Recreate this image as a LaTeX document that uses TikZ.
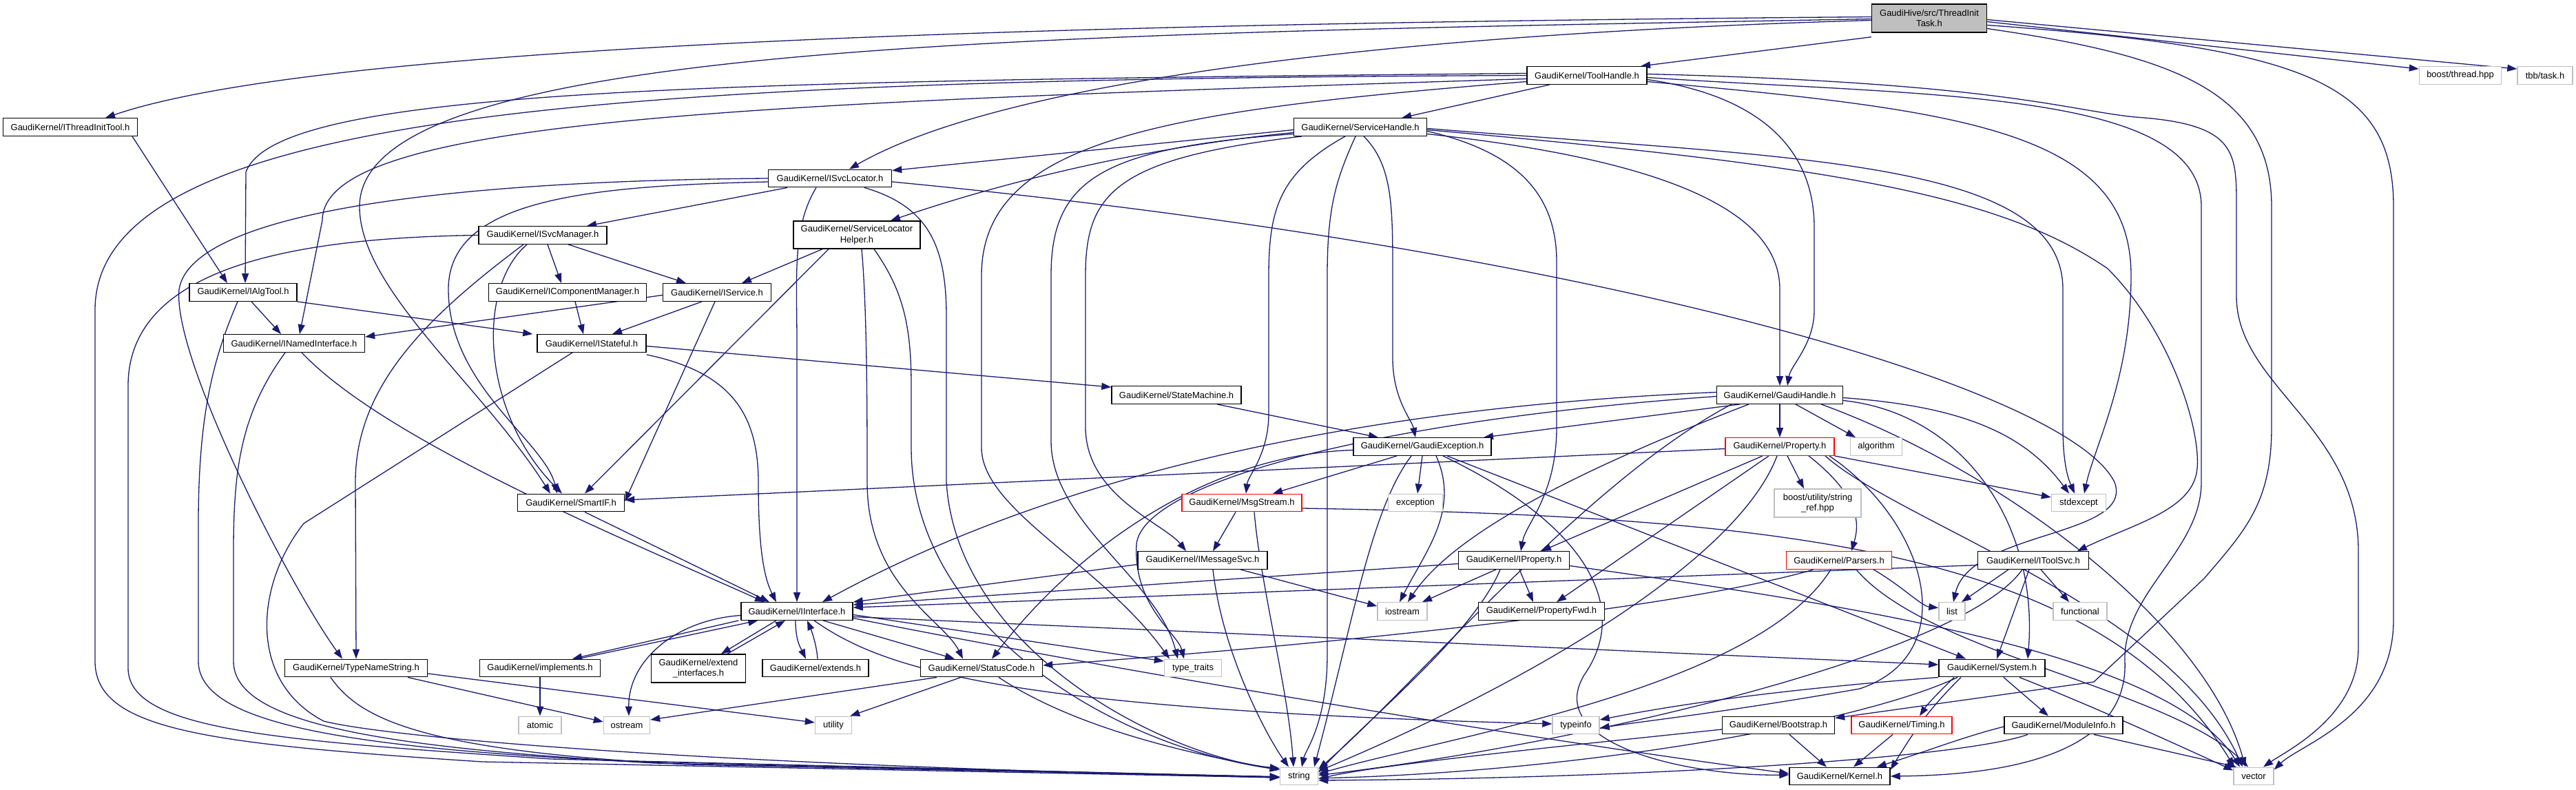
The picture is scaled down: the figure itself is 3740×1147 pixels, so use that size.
\documentclass[tikz,border=0pt]{standalone}
\usepackage{fontspec}
\setmainfont{Liberation Sans}
\usetikzlibrary{arrows.meta}
\definecolor{edgeblue}{RGB}{25,25,112}
\definecolor{grayb}{RGB}{191,191,191}
\newcommand\dgfont{\fontsize{13}{15.5}\selectfont}
\pgfdeclarelayer{edgelayer}
\pgfsetlayers{edgelayer,main}
\tikzset{
  nd/.style={draw=black, line width=1.4pt, fill=white, minimum height=25.5pt, inner sep=0pt, font=\dgfont, align=center},
  sysnd/.style={nd, draw=grayb},
  trunc/.style={nd, draw=red},
  ed/.style={draw=edgeblue, line width=1.3pt, -{Triangle[length=14pt,width=10pt]}},
}
\begin{document}
\begin{tikzpicture}[x=1pt,y=-1pt]
\useasboundingbox (0,0) rectangle (3740,1147);
% ---------------- nodes ----------------
\node[nd, fill=grayb, minimum width=167pt, minimum height=41pt] (tit) at (2801,26.5) {GaudiHive/src/ThreadInit\\Task.h};
\node[nd, minimum width=174pt] (th) at (2304,109.5) {GaudiKernel/ToolHandle.h};
\node[sysnd, minimum width=119pt] (bt) at (3572,109.5) {boost/thread.hpp};
\node[sysnd, minimum width=80pt] (tbb) at (3695,109.5) {tbb/task.h};
\node[nd, minimum width=195pt] (itit) at (102,184.5) {GaudiKernel/IThreadInitTool.h};
\node[nd, minimum width=193pt] (sh) at (1975,184.5) {GaudiKernel/ServiceHandle.h};
\node[nd, minimum width=179pt] (isl) at (1205,259) {GaudiKernel/ISvcLocator.h};
\node[nd, minimum width=186pt] (ism) at (788,341.5) {GaudiKernel/ISvcManager.h};
\node[nd, minimum width=184pt, minimum height=40pt] (slh) at (1244,341) {GaudiKernel/ServiceLocator\\Helper.h};
\node[nd, minimum width=156pt] (iat) at (353,424.5) {GaudiKernel/IAlgTool.h};
\node[nd, minimum width=229pt] (icm) at (824,424.5) {GaudiKernel/IComponentManager.h};
\node[nd, minimum width=157pt] (isv) at (1041,424.5) {GaudiKernel/IService.h};
\node[nd, minimum width=205pt] (ini) at (427,498.5) {GaudiKernel/INamedInterface.h};
\node[nd, minimum width=158pt] (ist) at (859,498.5) {GaudiKernel/IStateful.h};
\node[nd, minimum width=188pt] (sm) at (1708,573.5) {GaudiKernel/StateMachine.h};
\node[nd, minimum width=183pt] (gh) at (2584,573.5) {GaudiKernel/GaudiHandle.h};
\node[nd, minimum width=200pt] (ge) at (2065,648.5) {GaudiKernel/GaudiException.h};
\node[trunc, minimum width=158pt] (prop) at (2584,648.5) {GaudiKernel/Property.h};
\node[sysnd, minimum width=75pt] (alg) at (2724,648.5) {algorithm};
\node[sysnd, minimum width=79pt] (stdex) at (3018,730) {stdexcept};
\node[nd, minimum width=155pt] (sif) at (829,730) {GaudiKernel/SmartIF.h};
\node[trunc, minimum width=174pt] (ms) at (1803,730) {GaudiKernel/MsgStream.h};
\node[sysnd, minimum width=79pt] (exc) at (2055,730) {exception};
\node[sysnd, minimum width=126pt, minimum height=41pt] (bsr) at (2639,730.5) {boost/utility/string\\\_ref.hpp};
\node[nd, minimum width=188pt] (imsg) at (1746,813.5) {GaudiKernel/IMessageSvc.h};
\node[nd, minimum width=161pt] (iprop) at (2198,813.5) {GaudiKernel/IProperty.h};
\node[trunc, minimum width=153pt] (pars) at (2670,813.5) {GaudiKernel/Parsers.h};
\node[nd, minimum width=161pt] (its) at (2952,813.5) {GaudiKernel/IToolSvc.h};
\node[nd, minimum width=162pt] (ii) at (1157,887.5) {GaudiKernel/IInterface.h};
\node[sysnd, minimum width=72pt] (ios) at (2036,887.5) {iostream};
\node[nd, minimum width=183pt] (pfwd) at (2238,887.5) {GaudiKernel/PropertyFwd.h};
\node[sysnd, minimum width=38pt] (lst) at (2834,887.5) {list};
\node[sysnd, minimum width=78pt] (func) at (3020,887.5) {functional};
\node[nd, minimum width=207pt] (tns) at (517,970) {GaudiKernel/TypeNameString.h};
\node[nd, minimum width=175pt] (impl) at (784,970) {GaudiKernel/implements.h};
\node[nd, minimum width=137pt, minimum height=41pt] (ext) at (1014,970.5) {GaudiKernel/extend\\\_interfaces.h};
\node[nd, minimum width=154pt] (exts) at (1184,970) {GaudiKernel/extends.h};
\node[nd, minimum width=177pt] (sc) at (1425,970) {GaudiKernel/StatusCode.h};
\node[sysnd, minimum width=83pt] (tt) at (1732,970) {type\_traits};
\node[nd, minimum width=154pt] (sys) at (2892,970) {GaudiKernel/System.h};
\node[sysnd, minimum width=62pt] (atom) at (784,1053) {atomic};
\node[sysnd, minimum width=67pt] (ostr) at (910,1053) {ostream};
\node[sysnd, minimum width=53pt] (util) at (1210,1053) {utility};
\node[sysnd, minimum width=68pt] (tinfo) at (2288,1053) {typeinfo};
\node[nd, minimum width=163pt] (boot) at (2582,1053) {GaudiKernel/Bootstrap.h};
\node[trunc, minimum width=146pt] (tim) at (2761,1053) {GaudiKernel/Timing.h};
\node[nd, minimum width=172pt] (mi) at (2996,1053) {GaudiKernel/ModuleInfo.h};
\node[sysnd, minimum width=55pt] (str) at (1886,1127) {string};
\node[nd, minimum width=146pt] (ker) at (2671,1127) {GaudiKernel/Kernel.h};
\node[sysnd, minimum width=58pt] (vec) at (3272,1127) {vector};
% ---------------- edges ----------------
\begin{pgfonlayer}{edgelayer}
% ThreadInitTask
\draw[ed] ([yshift=-6pt]tit.south west) -- ([xshift=78pt]th.north);
\draw[ed] ([yshift=2pt]tit.west) .. controls (1400,35) and (450,70) .. ([xshift=51pt]itit.north);
\draw[ed] ([yshift=-3pt]tit.west) .. controls (2000,50) and (1450,120) .. ([xshift=28pt]isl.north);
\draw[ed] ([yshift=-1pt]tit.west) .. controls (1500,50) and (522,60) .. (522,300) .. controls (522,420) and (700,560) .. ([xshift=-30pt]sif.north);
\draw[ed] ([yshift=-5pt]tit.east) -- ([yshift=-4pt]bt.north west);
\draw[ed] ([yshift=-2pt]tit.east) -- ([yshift=-4pt]tbb.north west);
\draw[ed] ([yshift=-10pt]tit.east) .. controls (3350,70) and (3475,120) .. (3475,300) -- (3475,900) .. controls (3475,1040) and (3340,1080) .. ([yshift=-4pt]vec.north east);
\draw[ed] ([yshift=-15pt]tit.east) .. controls (3150,80) and (3298,130) .. (3298,300) -- (3298,620) .. controls (3298,730) and (3260,770) .. (3200,840) -- (3040,990) -- ([yshift=-3pt]boot.north east);
% IThreadInitTool
\draw[ed] ([xshift=90pt]itit.south) -- ([xshift=-23pt]iat.north);
% ToolHandle
\draw[ed] ([xshift=-54pt]th.south) -- ([xshift=-37pt]sh.north east);
\draw[ed] ([yshift=-6pt]th.east) .. controls (2560,140) and (2634,220) .. (2634,330) -- (2634,450) .. controls (2634,500) and (2600,530) .. ([xshift=11pt]gh.north);
\draw[ed] ([yshift=3pt]th.west) .. controls (1000,118) and (400,130) .. (357,250) -- ([xshift=3pt]iat.north);
\draw[ed] ([yshift=-5pt]th.west) .. controls (1100,150) and (468,170) .. (468,320) -- ([xshift=8pt]ini.north);
\draw[ed] (th.west) .. controls (900,115) and (138,160) .. (138,450) -- (138,960) .. controls (138,1060) and (300,1080) .. (700,1106) -- ([yshift=-2pt]str.west);
\draw[ed] ([yshift=-3pt]th.east) .. controls (2800,140) and (3196,130) .. (3196,300) -- (3196,700) .. controls (3196,800) and (3082,860) .. (3085,960) .. controls (3090,1080) and (2950,1125) .. (ker.east);
\draw[ed] ([yshift=-9pt]th.east) .. controls (2850,160) and (3094,190) .. (3094,400) .. controls (3094,550) and (3040,650) .. ([xshift=8pt]stdex.north);
\draw[ed] ([yshift=2pt]th.east) .. controls (2900,120) and (3000,160) .. (3100,170) .. controls (3247,180) and (3247,220) .. (3247,300) -- (3247,430) .. controls (3247,560) and (3424,620) .. (3424,800) -- (3424,940) .. controls (3424,1040) and (3320,1090) .. ([xshift=14pt]vec.north);
\draw[ed] ([yshift=-9pt]th.west) .. controls (1700,160) and (1425,200) .. (1425,400) -- (1425,650) .. controls (1425,740) and (1600,820) .. ([xshift=-34pt]tt.north);
% ServiceHandle
\draw[ed] ([yshift=-4pt]sh.west) -- ([yshift=-2pt]isl.north east);
\draw[ed] ([yshift=-8pt]sh.west) .. controls (1700,210) and (1500,250) .. ([xshift=49pt]slh.north);
\draw[ed] ([yshift=-10pt]sh.east) .. controls (2400,230) and (2584,300) .. (2584,420) -- (gh.north);
\draw[ed] ([xshift=5pt]sh.south) .. controls (2022,240) and (2022,300) .. (2022,400) -- (2022,520) .. controls (2022,580) and (2050,610) .. ([xshift=-10pt]ge.north);
\draw[ed] ([xshift=-7pt]sh.south) .. controls (1940,260) and (1927,300) .. (1927,400) -- (1927,950) .. controls (1927,1050) and (1895,1090) .. ([xshift=4pt]str.north);
\draw[ed] ([yshift=-10pt]sh.west) .. controls (1600,215) and (1526,260) .. (1526,400) -- (1526,640) .. controls (1526,760) and (1680,840) .. ([xshift=-22pt]tt.north);
\draw[ed] ([xshift=-85pt]sh.south) .. controls (1620,230) and (1576,280) .. (1576,400) -- (1576,620) .. controls (1576,720) and (1690,760) .. ([xshift=-24pt]imsg.north);
\draw[ed] ([xshift=-22pt]sh.south) .. controls (1860,250) and (1842,300) .. (1842,400) -- (1842,600) .. controls (1842,660) and (1812,690) .. ([xshift=6pt]ms.north);
\draw[ed] ([yshift=-6pt]sh.east) .. controls (2200,220) and (2260,280) .. (2260,380) -- (2260,620) .. controls (2260,720) and (2215,760) .. ([xshift=10pt]iprop.north);
\draw[ed] ([yshift=-2pt]sh.east) .. controls (2600,230) and (2995,230) .. (2995,420) -- (2995,620) .. controls (2995,680) and (3005,700) .. ([xshift=-6pt]stdex.north);
\draw[ed] ([yshift=-4pt]sh.east) .. controls (2650,240) and (2900,280) .. (3060,390) .. controls (3150,480) and (3195,620) .. (3190,680) .. controls (3185,740) and (3100,760) .. ([xshift=64pt]its.north);
% ISvcLocator
\draw[ed] ([xshift=-62pt]isl.south) -- ([xshift=64pt]ism.north);
\draw[ed] ([yshift=-5pt]isl.west) .. controls (850,270) and (651,290) .. (651,420) .. controls (651,560) and (790,640) .. ([xshift=-20pt]sif.north);
\draw[ed] ([xshift=-20pt]isl.south) .. controls (1150,330) and (1157,400) .. (1157,500) -- (ii.north);
\draw[ed] ([xshift=50pt]isl.south) .. controls (1350,300) and (1374,360) .. (1374,460) -- (1374,700) .. controls (1390,950) and (1700,1100) .. ([yshift=-2pt]str.north west);
\draw[ed] ([yshift=-5pt]isl.east) .. controls (2300,360) and (3000,560) .. (3070,700) .. controls (3100,780) and (2860,770) .. ([xshift=2pt]lst.north);
\draw[ed] (isl.west) .. controls (700,262) and (280,300) .. (260,420) .. controls (250,520) and (420,850) .. ([xshift=-20pt]tns.north);
% ISvcManager
\draw[ed] ([xshift=7pt]ism.south) -- ([xshift=-9pt]icm.north);
\draw[ed] ([xshift=37pt]ism.south) -- ([xshift=-45pt]isv.north);
\draw[ed] ([xshift=-23pt]ism.south) .. controls (690,420) and (700,600) .. ([xshift=-13pt]sif.north);
\draw[ed] ([xshift=-28pt]ism.south) .. controls (620,460) and (516,560) .. (516,700) -- (tns.north);
\draw[ed] (ism.west) .. controls (450,345) and (186,380) .. (186,560) -- (186,970) .. controls (186,1060) and (400,1075) .. (800,1102) -- ([yshift=-1pt]str.west);
% ServiceLocatorHelper
\draw[ed] ([xshift=-50pt]slh.south) -- ([xshift=36pt]isv.north);
\draw[ed] ([xshift=-41pt]slh.south) -- ([xshift=20pt]sif.north);
\draw[ed] ([xshift=7pt]slh.south) .. controls (1259,450) and (1259,600) .. (1259,700) .. controls (1259,850) and (1370,900) .. ([xshift=-27pt]sc.north);
\draw[ed] ([xshift=25pt]slh.south) .. controls (1310,420) and (1323,470) .. (1323,560) -- (1323,650) .. controls (1323,900) and (1600,1080) .. ([yshift=-4pt]str.north west);
% IAlgTool
\draw[ed] ([xshift=12pt]iat.south) -- ([xshift=-19pt]ini.north);
\draw[ed] (iat.south east) -- ([xshift=-6pt]ist.north west);
\draw[ed] ([xshift=-8pt]iat.south) .. controls (310,520) and (288,600) .. (288,760) -- (288,960) .. controls (288,1050) and (500,1085) .. (900,1105) -- ([yshift=-1pt]str.west);
\draw[ed] ([xshift=11pt]icm.south) -- ([xshift=-12pt]ist.north);
% IService
\draw[ed] ([yshift=-4pt]isv.west) -- ([yshift=-4pt]ini.north east);
\draw[ed] ([xshift=-22pt]isv.south) -- ([xshift=30pt]ist.north);
\draw[ed] ([xshift=-3pt]isv.south) -- ([yshift=2pt]sif.east);
% INamedInterface
\draw[ed] ([xshift=11pt]ini.south) .. controls (560,640) and (900,780) .. ([xshift=-47pt]ii.north);
\draw[ed] ([xshift=-13pt]ini.south) .. controls (350,600) and (339,680) .. (339,800) -- (339,960) .. controls (339,1050) and (550,1085) .. (950,1108) -- ([yshift=-1pt]str.west);
% IStateful
\draw[ed] ([yshift=-4pt]ist.east) -- ([yshift=-2pt]sm.north west);
\draw[ed] ([yshift=-3pt]ist.south east) .. controls (1060,540) and (1101,600) .. (1101,700) .. controls (1101,800) and (1110,840) .. ([xshift=-30pt]ii.north);
\draw[ed] ([xshift=-28pt]ist.south) -- (441,760) .. controls (370,850) and (360,990) .. (470,1047) .. controls (560,1070) and (1000,1110) .. ([yshift=-2pt]str.west);
\draw[ed] ([xshift=59pt]sm.south) -- ([xshift=-64pt]ge.north);
% GaudiHandle
\draw[ed] (gh.south) -- (prop.north);
\draw[ed] ([xshift=23pt]gh.south) -- ([xshift=-30pt]alg.north);
\draw[ed] ([xshift=-58pt]gh.south) -- ([xshift=89pt]ge.north);
\draw[ed] ([yshift=4pt]gh.west) .. controls (2000,590) and (1550,680) .. ([xshift=37pt]ii.north);
\draw[ed] ([yshift=-2pt]gh.west) .. controls (2000,610) and (1660,700) .. (1650,790) .. controls (1645,880) and (1710,920) .. ([xshift=-13pt]tt.north);
\draw[ed] ([yshift=-8pt]gh.east) .. controls (2850,600) and (2960,760) .. ([xshift=52pt]sys.north);
\draw[ed] ([xshift=60pt]gh.south) .. controls (2900,680) and (3200,900) .. ([xshift=-12pt]vec.north);
\draw[ed] ([xshift=-45pt]gh.south) .. controls (2350,660) and (2120,760) .. ([xshift=8pt]ios.north);
\draw[ed] ([yshift=-4pt]gh.east) .. controls (2850,590) and (2940,630) .. ([xshift=-14pt]stdex.north);
\draw[ed] ([xshift=-70pt]gh.south) .. controls (2300,700) and (2050,1000) .. ([yshift=-3pt]str.north east);
% GaudiException
\draw[ed] (ge.south) -- ([xshift=3pt]exc.north);
\draw[ed] ([xshift=20pt]ge.south) .. controls (2120,740) and (2070,800) .. ([xshift=-4pt]ios.north);
\draw[ed] ([xshift=-16pt]ge.south) .. controls (1990,740) and (1965,900) .. ([xshift=22pt]str.north);
\draw[ed] ([xshift=30pt]ge.south) .. controls (2300,760) and (2370,880) .. (2300,980) .. controls (2240,1080) and (2450,1127) .. ([yshift=2pt]ker.west);
\draw[ed] ([yshift=-5pt]ge.west) .. controls (1750,660) and (1560,800) .. ([xshift=15pt]sc.north);
\draw[ed] ([xshift=36pt]ge.south) -- ([xshift=-38pt]sys.north);
\draw[ed] ([xshift=-37pt]ge.south) -- ([xshift=45pt]ms.north);
% Property
\draw[ed] ([xshift=-25pt]prop.south) -- ([xshift=40pt]iprop.north);
\draw[ed] ([xshift=-16pt]prop.south) -- ([xshift=22pt]pfwd.north);
\draw[ed] ([xshift=42pt]prop.south) .. controls (2700,720) and (2700,760) .. ([xshift=18pt]pars.north);
\draw[ed] ([xshift=11pt]prop.south) -- ([xshift=-20pt]bsr.north);
\draw[ed] (prop.south east) -- ([yshift=8pt]stdex.west);
\draw[ed] ([xshift=-4pt]prop.south) .. controls (2520,820) and (2200,1000) .. ([yshift=-6pt]str.north east);
\draw[ed] ([xshift=66pt]prop.south) .. controls (2760,760) and (3150,880) .. ([xshift=-16pt]vec.north);
\draw[ed] ([yshift=-3pt]prop.west) -- ([yshift=4pt]sif.east);
\draw[ed] ([xshift=72pt]prop.south) .. controls (2800,760) and (2850,950) .. (2700,1000) .. controls (2500,1035) and (2400,1045) .. ([yshift=-4pt]tinfo.east);
% MsgStream
\draw[ed] ([xshift=-9pt]ms.south) -- ([xshift=15pt]imsg.north);
\draw[ed] ([xshift=18pt]ms.south) .. controls (1830,850) and (1870,1000) .. ([xshift=-8pt]str.north);
\draw[ed] ([yshift=-8pt]ms.east) .. controls (2600,750) and (3050,800) .. ([xshift=-28pt]vec.north);
% IMessageSvc
\draw[ed] ([yshift=-6pt]imsg.west) -- (ii.north east);
\draw[ed] ([xshift=55pt]imsg.south) -- ([yshift=-6pt]ios.north west);
\draw[ed] ([xshift=15pt]imsg.south) .. controls (1775,950) and (1840,1070) .. ([xshift=-15pt]str.north);
% IProperty
\draw[ed] ([yshift=-5pt]iprop.west) -- ([yshift=-4pt]ii.north east);
\draw[ed] ([xshift=-26pt]iprop.south) -- ([xshift=29pt]ios.north);
\draw[ed] ([xshift=8pt]iprop.south) -- ([xshift=-12pt]pfwd.north);
\draw[ed] ([xshift=-20pt]iprop.south) .. controls (2140,920) and (1980,1050) .. ([yshift=-8pt]str.north east);
\draw[ed] ([yshift=-8pt]iprop.east) .. controls (2700,880) and (3150,950) .. ([xshift=-20pt]vec.north);
% Parsers
\draw[ed] ([xshift=-37pt]pars.south) .. controls (2450,880) and (2000,930) .. ([yshift=4pt]sc.east);
\draw[ed] ([xshift=-12pt]pars.south) .. controls (2550,1000) and (2100,1070) .. ([yshift=-10pt]str.north east);
\draw[ed] ([xshift=50pt]pars.south) .. controls (2760,850) and (2790,880) .. ([yshift=5pt]lst.west);
\draw[ed] ([xshift=25pt]pars.south) .. controls (2800,950) and (3150,1000) .. ([xshift=-8pt]vec.north);
% IToolSvc
\draw[ed] ([yshift=-7pt]its.west) -- ([yshift=-8pt]ii.north east);
\draw[ed] ([xshift=-36pt]its.south) -- ([xshift=14pt]lst.north);
\draw[ed] ([xshift=11pt]its.south) -- ([xshift=-16pt]func.north);
\draw[ed] ([xshift=-6pt]its.south) -- ([xshift=7pt]sys.north);
\draw[ed] ([xshift=-16pt]its.south) .. controls (2850,950) and (2300,1080) .. ([yshift=-12pt]str.north east);
% IInterface
\draw[ed] ([xshift=38pt]ii.south) -- ([xshift=-39pt]sc.north);
\draw[ed] ([yshift=-5pt]ii.east) -- ([yshift=10pt]tt.west);
\draw[ed] ([yshift=-6pt]ii.west) .. controls (980,900) and (912,960) .. ([xshift=3pt]ostr.north);
\draw[ed] ([xshift=25pt]ii.south) .. controls (1280,970) and (1450,1030) .. ([yshift=2pt]tinfo.west);
\draw[ed] ([yshift=-8pt]ii.east) -- ([yshift=5pt]sys.west);
\draw[ed] ([yshift=-10pt]ii.east) .. controls (1600,970) and (2200,1070) .. ([yshift=4pt]ker.west);
\draw[ed] ([xshift=-3pt]ii.south west) -- ([xshift=47pt]impl.north);
\draw[ed] ([xshift=55pt]impl.north) -- ([xshift=25pt]ii.south west);
\draw[ed] ([xshift=-30pt]ii.south) -- ([xshift=33pt]ext.north);
\draw[ed] ([xshift=42pt]ext.north) -- ([xshift=-17pt]ii.south);
\draw[ed] ([xshift=-2pt]ii.south) .. controls (1155,930) and (1162,940) .. ([xshift=-14pt]exts.north);
\draw[ed] ([xshift=3pt]exts.north) .. controls (1186,940) and (1180,920) .. ([xshift=15pt]ii.south);
\draw[ed] ([xshift=20pt]sif.south) -- ([xshift=-40pt]ii.north);
\draw[ed] (impl.south) -- (atom.north);
% TypeNameString
\draw[ed] ([xshift=75pt]tns.south) -- ([yshift=5pt]ostr.west);
\draw[ed] ([yshift=-8pt]tns.east) -- ([yshift=4pt]util.west);
\draw[ed] ([xshift=-37pt]tns.south) .. controls (520,1040) and (600,1090) .. (1000,1110) -- ([yshift=-1pt]str.west);
% StatusCode
\draw[ed] ([xshift=-65pt]sc.south) -- ([yshift=8pt]ostr.east);
\draw[ed] ([xshift=-30pt]sc.south) -- ([xshift=-3pt]util.north east);
\draw[ed] ([xshift=25pt]sc.south) .. controls (1550,1050) and (1700,1090) .. ([yshift=-4pt]str.north west);
% System
\draw[ed] (sys.south west) .. controls (2600,1000) and (2450,1020) .. ([yshift=8pt]tinfo.east);
\draw[ed] ([xshift=-50pt]sys.south) .. controls (2700,1050) and (2300,1120) .. ([yshift=-3pt]str.east);
\draw[ed] ([xshift=-45pt]sys.south) .. controls (2800,1030) and (2780,1060) .. ([yshift=-4pt]ker.north east);
\draw[ed] ([xshift=-55pt]sys.south) .. controls (2820,1000) and (2800,1020) .. ([xshift=26pt]tim.north);
\draw[ed] ([xshift=17pt]sys.south) -- ([xshift=-22pt]mi.north);
\draw[ed] ([xshift=40pt]sys.south) .. controls (3050,1030) and (3180,1090) .. ([yshift=-5pt]vec.north west);
% ModuleInfo, Bootstrap, Timing
\draw[ed] ([xshift=44pt]mi.south) -- ([xshift=-25pt]vec.north);
\draw[ed] ([yshift=-2pt]mi.west) .. controls (2850,1070) and (2800,1090) .. ([xshift=-20pt]ker.north east);
\draw[ed] ([xshift=-52pt]mi.south) .. controls (2850,1100) and (2400,1130) .. ([yshift=-6pt]str.east);
\draw[ed] ([xshift=16pt]boot.south) -- ([xshift=-19pt]ker.north);
\draw[ed] ([yshift=-6pt]boot.west) .. controls (2300,1080) and (2000,1110) .. ([yshift=-4pt]str.east);
\draw[ed] ([xshift=-13pt]tim.south) -- ([xshift=20pt]ker.north);
\end{pgfonlayer}
\end{tikzpicture}
\end{document}
